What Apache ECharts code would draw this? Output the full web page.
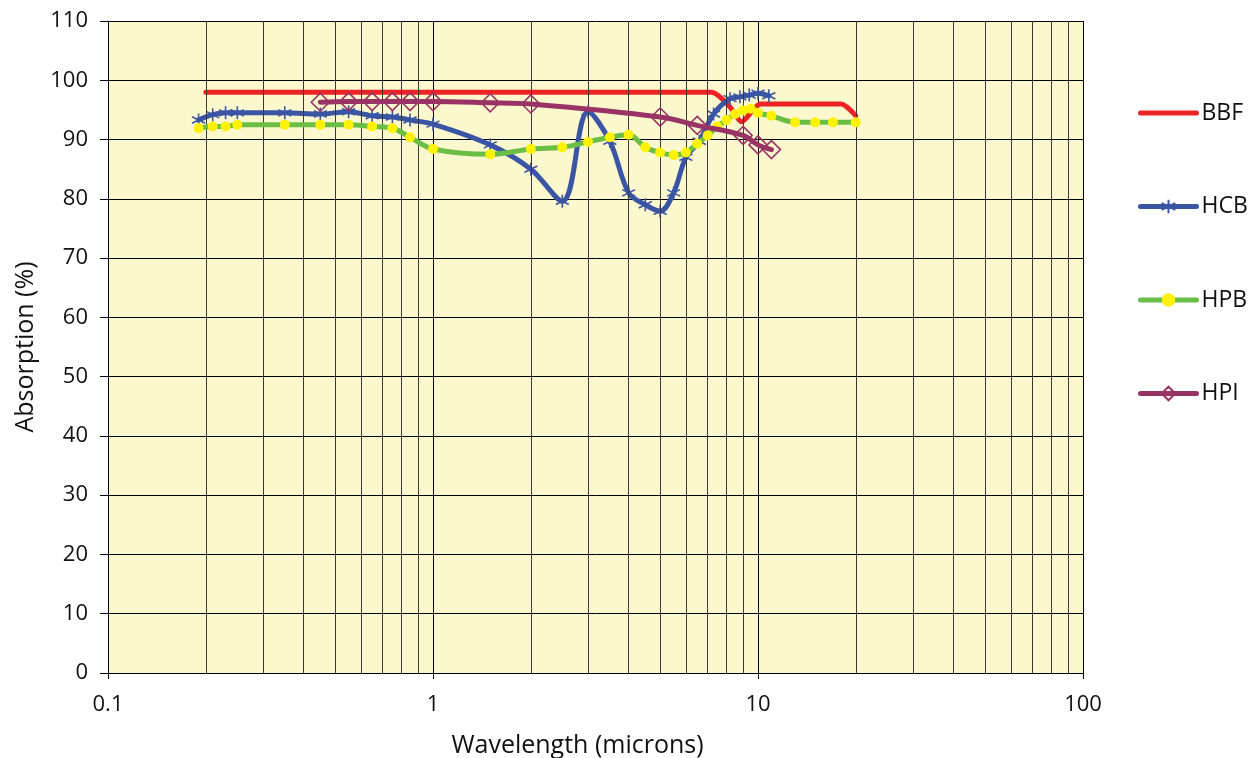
<!DOCTYPE html>
<html>
<head>
<meta charset="utf-8">
<script src="https://cdn.jsdelivr.net/npm/echarts@6/dist/echarts.min.js"></script>
<style>
html,body{margin:0;padding:0;background:#fff;}
#chart{width:1250px;height:758px;}
</style>
</head>
<body>
<div id="chart"></div>
<script>
// ---- Data ----
const BBF_X = [0.2, 7.2, 8.2, 8.9, 10.2, 18, 20];
const BBF_Y = [98, 98, 95.5, 93, 96, 96, 94];

const HCB_X = [0.19, 0.21, 0.23, 0.25, 0.35, 0.45, 0.55, 0.65, 0.75, 0.85, 1.0, 1.5, 2.0, 2.5, 3.0, 3.5, 4.0, 4.5, 5.0, 5.5, 6.0, 6.6, 7.3, 8.2, 8.8, 9.4, 10, 10.8];
const HCB_Y = [93.3, 94.2, 94.5, 94.5, 94.5, 94.3, 94.7, 94.0, 93.8, 93.3, 92.6, 89.1, 85.0, 79.6, 94.7, 89.7, 81.0, 79.0, 77.9, 81.0, 87.0, 89.7, 94.3, 96.9, 97.2, 97.5, 97.8, 97.4];

const HPB_X = [0.19, 0.21, 0.23, 0.25, 0.35, 0.45, 0.55, 0.65, 0.75, 0.85, 1.0, 1.5, 2.0, 2.5, 3.0, 3.5, 4.0, 4.5, 5.0, 5.5, 6.0, 6.5, 7.0, 7.5, 8.0, 8.5, 9.0, 9.5, 10, 11, 13, 15, 17, 20];
const HPB_Y = [91.9, 92.2, 92.2, 92.5, 92.5, 92.5, 92.5, 92.2, 91.9, 90.4, 88.4, 87.5, 88.4, 88.7, 89.6, 90.4, 90.8, 88.7, 87.8, 87.4, 87.8, 89.3, 90.7, 92.2, 93.3, 94.3, 94.9, 95.2, 94.5, 94.0, 92.9, 92.9, 92.9, 92.9];

const HPI_X = [0.45, 0.55, 0.65, 0.75, 0.85, 1.0, 1.5, 2.0, 5.0, 6.5, 9, 10, 11];
const HPI_Y = [96.3, 96.4, 96.4, 96.4, 96.4, 96.4, 96.2, 96.0, 93.8, 92.4, 90.7, 89.1, 88.3];

const X_MAJOR_LABELS = [0.1, 1, 10, 100];
const MINOR_GRID_X = [0.2,0.3,0.4,0.5,0.6,0.7,0.8,0.9, 2,3,4,5,6,7,8,9, 20,30,40,50,60,70,80,90];

const pair = (xs, ys) => xs.map((x, i) => [x, ys[i]]);

const FONT = '"Open Sans", "Noto Sans", sans-serif';
const starPath = 'path://M0,-10 L0,10 M-8.66,-5 L8.66,5 M-8.66,5 L8.66,-5';

const chart = echarts.init(document.getElementById('chart'), null, {renderer: 'canvas'});

const option = {
  backgroundColor: '#ffffff',
  animation: false,
  grid: {
    left: 108, top: 21, width: 975, height: 652,
    containLabel: false,
    outerBoundsMode: 'none',
    show: true, backgroundColor: '#FCF8CD', borderWidth: 0
  },
  legend: {
    orient: 'vertical',
    left: 1138, top: 99,
    padding: 0,
    itemWidth: 56, itemHeight: 17,
    itemGap: 65.5,
    lineStyle: {width: 5},
    textStyle: {fontFamily: FONT, fontSize: 23, color: '#111', lineHeight: 28},
    data: [
      {name: 'BBF', itemStyle: {opacity: 0}},
      {name: 'HCB'},
      {name: 'HPB'},
      {name: 'HPI'}
    ]
  },
  xAxis: {
    type: 'log', logBase: 10, min: 0.1, max: 100,
    name: 'Wavelength (microns)',
    nameLocation: 'middle', nameGap: 60,
    nameTextStyle: {fontFamily: FONT, fontSize: 25, color: '#111', padding: [0, 36, 0, 0]},
    axisLine: {show: true, lineStyle: {color: '#000', width: 1}},
    axisTick: {show: true, inside: false, length: 6, lineStyle: {color: '#000'}},
    axisLabel: {
      fontFamily: FONT, fontSize: 22, color: '#111', margin: 21,
      formatter: v => {
        const m = X_MAJOR_LABELS.find(t => Math.abs(t - v) / t < 1e-6);
        return m === undefined ? '' : String(m);
      }
    },
    splitLine: {show: true, lineStyle: {color: '#000', width: 1}},
    minorTick: {show: false},
    minorSplitLine: {show: false}
  },
  yAxis: {
    type: 'value', min: 0, max: 110, interval: 10,
    name: 'Absorption (%)',
    nameLocation: 'middle', nameGap: 70,
    nameTextStyle: {fontFamily: FONT, fontSize: 25, color: '#111'},
    axisLine: {show: true, lineStyle: {color: '#000', width: 1}},
    axisTick: {show: true, inside: false, length: 8, lineStyle: {color: '#000'}},
    axisLabel: {fontFamily: FONT, fontSize: 22, color: '#111', margin: 20},
    splitLine: {show: true, lineStyle: {color: '#000', width: 1}}
  },
  series: [
    {
      name: 'gridMinor', type: 'line', data: [], silent: true,
      markLine: {
        silent: true, symbol: ['none', 'none'], label: {show: false},
        lineStyle: {color: '#3a3a3a', width: 1, type: 'solid'},
        emphasis: {disabled: true},
        animation: false,
        data: MINOR_GRID_X.map(v => ({xAxis: v}))
      },
      z: 1
    },
    {
      name: 'BBF', type: 'line', data: pair(BBF_X, BBF_Y),
      smooth: 0.25, showSymbol: false, symbol: 'none',
      lineStyle: {color: '#EE2326', width: 5, cap: 'round', join: 'round'},
      itemStyle: {color: '#EE2326'},
      z: 3
    },
    {
      name: 'HCB', type: 'line', data: pair(HCB_X, HCB_Y),
      smooth: 0.35, symbol: starPath, symbolSize: 13, showAllSymbol: true,
      lineStyle: {color: '#3B55A5', width: 5, cap: 'round', join: 'round'},
      itemStyle: {color: 'rgba(0,0,0,0)', borderColor: '#3B55A5', borderWidth: 1.6},
      z: 4
    },
    {
      name: 'HPB', type: 'line', data: pair(HPB_X, HPB_Y),
      smooth: 0.35, symbol: 'circle', symbolSize: 10, showAllSymbol: true,
      lineStyle: {color: '#6BBE45', width: 5, cap: 'round', join: 'round'},
      itemStyle: {color: '#FFF200', borderWidth: 0},
      z: 5
    },
    {
      name: 'HPI', type: 'line', data: pair(HPI_X, HPI_Y),
      smooth: 0.35, symbol: 'diamond', symbolSize: [18, 18], showAllSymbol: true,
      lineStyle: {color: '#993366', width: 5, cap: 'round', join: 'round'},
      itemStyle: {color: 'rgba(0,0,0,0)', borderColor: '#993366', borderWidth: 1.6},
      z: 6
    }
  ]
};

chart.setOption(option);
</script>
</body>
</html>
